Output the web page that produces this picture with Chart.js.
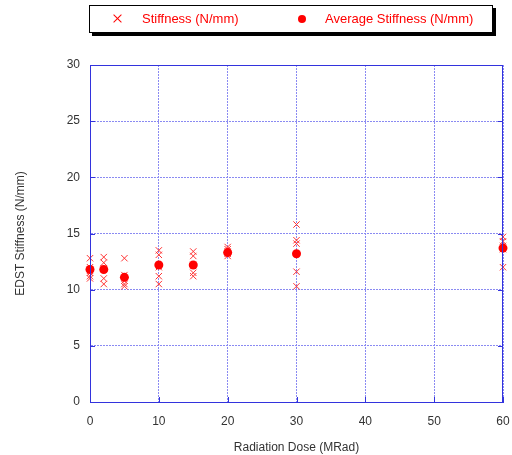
<!DOCTYPE html>
<html lang="en">
  <head>
    <meta charset="UTF-8" />
    <title>EDST Stiffness vs Radiation Dose</title>
    <style>
      body { margin: 0; background: #fff; }
      .wrap { position: relative; width: 512px; height: 455px; }
      .legend {
        position: absolute; left: 89px; top: 5px; width: 402px; height: 26px;
        border: 1px solid #000; box-shadow: 3px 3px 0 #000; background: #fff;
        font-family: "Liberation Sans", Arial, sans-serif; font-size: 13px; color: #ff0000;
      }
      .legend span { position: absolute; top: 5px; }
      .mark-x { position: absolute; left: 23px; top: 8px; width: 9px; height: 9px; }
      .mark-x:before, .mark-x:after {
        content: ""; position: absolute; left: 4px; top: -1px; width: 1px; height: 11px;
        background: #ff0000; transform: rotate(45deg);
      }
      .mark-x:after { transform: rotate(-45deg); }
      .mark-dot { position: absolute; left: 208px; top: 9px; width: 8px; height: 8px; border-radius: 50%; background: #ff0000; }
    </style>
  </head>
  <body>
    <div class="wrap">
      <canvas id="chart" width="512" height="455"></canvas>
      <div class="legend">
        <div class="mark-x"></div><span style="left:52px">Stiffness (N/mm)</span>
        <div class="mark-dot"></div><span style="left:235px">Average Stiffness (N/mm)</span>
      </div>
    </div>
  <script src="https://cdn.jsdelivr.net/npm/chart.js@4/dist/chart.umd.min.js"></script>
  <script>
// doses in MRad
var doses = [0, 2, 5, 10, 15, 20, 30, 60];
// individual stiffness samples (N/mm), one list per dose
var stiffness = [
    [12.8, 12.0, 11.5, 11.2, 11.0],
    [12.9, 12.4, 11.9, 11.0, 10.5],
    [12.8, 11.3, 10.8, 10.5, 10.3],
    [13.5, 13.1, 12.0, 11.2, 10.5],
    [13.4, 13.0, 12.2, 11.5, 11.2],
    [13.8, 13.6, 13.4, 13.2, 13.0],
    [15.8, 14.4, 14.1, 11.6, 10.3],
    [14.7, 14.3, 13.9, 13.6, 12.0]
];
var avgStiffness = [11.8, 11.8, 11.1, 12.2, 12.2, 13.3, 13.2, 13.7];
var xTicks = [0, 10, 20, 30, 40, 50, 60];
var yTicks = [0, 5, 10, 15, 20, 25, 30];

var samplePts = [];
doses.forEach(function (d, i) {
    stiffness[i].forEach(function (v) { samplePts.push({ x: d, y: v }); });
});
var avgPts = doses.map(function (d, i) { return { x: d, y: avgStiffness[i] }; });

var axisBlue = '#3333dd';
var gridBlue = '#8a8af2';
var font = { family: '"Liberation Sans", Arial, sans-serif', size: 12 };

// frame around the plot + short inward tick marks
var framePlugin = {
    id: 'frame',
    afterDatasetsDraw: function (chart) {
        var a = chart.chartArea, c = chart.ctx;
        var xs = chart.scales.x, ys = chart.scales.y;
        c.save();
        c.strokeStyle = axisBlue;
        c.lineWidth = 1;
        c.strokeRect(Math.round(a.left) + 0.5, Math.round(a.top) + 0.5,
            Math.round(a.right - a.left) - 1, Math.round(a.bottom - a.top));
        c.beginPath();
        xTicks.forEach(function (t) {
            var px = Math.round(xs.getPixelForValue(t)) + 0.5;
            c.moveTo(px, a.bottom); c.lineTo(px, a.bottom - 5);
        });
        yTicks.forEach(function (t) {
            var py = Math.round(ys.getPixelForValue(t)) + 0.5;
            c.moveTo(a.left, py); c.lineTo(a.left + 5, py);
            c.moveTo(a.right, py); c.lineTo(a.right - 5, py);
        });
        c.stroke();
        c.restore();
    }
};

var ctx = document.getElementById('chart').getContext('2d');
var chart = new Chart(ctx, {
    type: 'scatter',
    data: {
        datasets: [{
            label: 'Average Stiffness (N/mm)',
            data: avgPts,
            pointStyle: 'circle',
            pointRadius: 4.5,
            backgroundColor: '#ff0000',
            borderColor: '#ff0000',
            borderWidth: 0,
            clip: false,
            order: 0
        },
        {
            label: 'Stiffness (N/mm)',
            data: samplePts,
            pointStyle: 'crossRot',
            pointRadius: 4.5,
            borderColor: '#ff3333',
            borderWidth: 1,
            clip: false,
            order: 1
        }]
    },
    options: {
        responsive: false,
        animation: false,
        layout: { padding: { left: 0, top: 65, right: 9, bottom: 0 } },
        plugins: { legend: { display: false }, tooltip: { enabled: false } },
        scales: {
            x: {
                type: 'linear', min: 0, max: 60,
                afterFit: function (s) { s.height = 53; s.paddingRight = 0; s.paddingLeft = 0; },
                afterBuildTicks: function (s) { s.ticks = xTicks.map(function (v) { return { value: v }; }); },
                ticks: { color: '#333', font: font, padding: 12, maxRotation: 0 },
                grid: { color: gridBlue, drawTicks: false, lineWidth: 1 },
                border: { color: axisBlue, dash: [2, 1] },
                title: { display: true, text: 'Radiation Dose (MRad)', color: '#333', font: font, padding: { top: 8, bottom: 0 } }
            },
            y: {
                min: 0, max: 30,
                afterFit: function (s) { s.width = 90; },
                afterBuildTicks: function (s) { s.ticks = yTicks.map(function (v) { return { value: v }; }); },
                ticks: { color: '#333', font: font, padding: 10 },
                grid: { color: gridBlue, drawTicks: false, lineWidth: 1 },
                border: { color: axisBlue, dash: [2, 1] },
                title: { display: true, text: 'EDST Stiffness (N/mm)', color: '#333', font: font, padding: { top: 13, bottom: 0 } }
            }
        }
    },
    plugins: [framePlugin]
});
  </script>
  </body>
</html>
